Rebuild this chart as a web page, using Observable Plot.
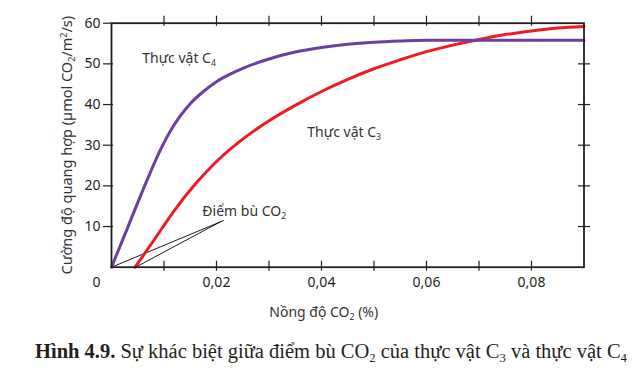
<!DOCTYPE html>
<html><head><meta charset="utf-8">
<script src="https://cdn.jsdelivr.net/npm/d3@7"></script>
<script src="https://cdn.jsdelivr.net/npm/@observablehq/plot@0.6"></script>
<style>
body{margin:0;background:#fff;}
#wrap{position:relative;width:643px;height:385px;overflow:hidden;background:#fff;}
#cap{position:absolute;left:35px;top:341px;font-family:"Liberation Serif";font-size:20.5px;line-height:1;color:#231f20;white-space:nowrap;}
#cap sub{font-size:62%;vertical-align:-0.3em;line-height:0;}
</style></head><body>
<div id="wrap"><div id="chart"></div>
<div id="cap"><b>Hình 4.9.</b> Sự khác biệt giữa điểm bù CO<sub>2</sub> của thực vật C<sub>3</sub> và thực vật C<sub>4</sub></div>
</div>
<script>
// C4 plant curve
const c4X = [0, 0.003, 0.006, 0.009, 0.011, 0.013, 0.015, 0.0175, 0.02, 0.0225, 0.025, 0.03, 0.035, 0.04, 0.045, 0.05, 0.055, 0.06, 0.07, 0.08, 0.09];
const c4Y = [0, 9.5, 19, 28, 33, 37, 40.2, 43.2, 45.6, 47.4, 48.9, 51.2, 52.9, 54.0, 54.8, 55.3, 55.6, 55.8, 55.8, 55.8, 55.8];
// C3 plant curve
const c3X = [0.0045, 0.008, 0.012, 0.016, 0.02, 0.025, 0.03, 0.035, 0.04, 0.045, 0.05, 0.055, 0.06, 0.065, 0.07, 0.075, 0.08, 0.085, 0.09];
const c3Y = [0, 6.5, 14, 20.5, 26, 31.5, 36, 39.8, 43.2, 46.2, 48.8, 51.0, 53.0, 54.6, 56.0, 57.2, 58.1, 58.8, 59.2];
// axis ticks
const xTickLabels = [0.02, 0.04, 0.06, 0.08];
const xTickMarks = [0.01, 0.02, 0.03, 0.04, 0.05, 0.06, 0.07, 0.08];
const yTickLabels = [10, 20, 30, 40, 50, 60];
const yTickMarks = [10, 20, 30, 40, 50];
const cornerLabel = ["0"];
// annotations
const annoLabels = ["Thực vật C_4", "Thực vật C_3", "Điểm bù CO_2"];
const annoX = [0.00585, 0.0373, 0.0173];
const annoY = [50.3, 32.1, 12.6];
const leaderFromX = [0.0214, 0.0208];
const leaderFromY = [11.5, 11.2];
const leaderToX = [0, 0.0046];
const leaderToY = [0, 0];
const xTitle = "Nồng độ CO_2 (%)";
const yTitle = "Cường độ quang hợp (µmol CO_2/m^2/s)";

const ink = "#231f20";
const purple = "#6b3fa0";
const red = "#ed1c24";

const c4 = c4X.map((x, i) => ({x, y: c4Y[i]}));
const c3 = c3X.map((x, i) => ({x, y: c3Y[i]}));
const leaders = leaderFromX.map((x, i) => ({x1: x, y1: leaderFromY[i], x2: leaderToX[i], y2: leaderToY[i]}));

const W = 643, H = 330, mL = 111, mR = 59.5, mT = 22.7, mB = 63.3;
const iw = W - mL - mR, ih = H - mT - mB;

const plot = Plot.plot({
  width: W, height: H,
  marginLeft: mL, marginRight: mR, marginTop: mT, marginBottom: mB,
  x: {domain: [0, 0.09]},
  y: {domain: [0, 60]},
  style: {fontFamily: "Noto Sans", fontSize: "14px", color: ink, background: "white", overflow: "visible"},
  marks: [
    Plot.axisX(xTickLabels, {anchor: "bottom", tickSize: 0, tickPadding: 10, tickFormat: d => d.toFixed(2).replace(".", ","), label: null, fill: ink}),
    Plot.axisY(yTickLabels, {anchor: "left", tickSize: 0, tickPadding: 11, label: null, fill: ink}),
    Plot.text(cornerLabel, {x: [0], y: [0], dx: -15, dy: 10, lineAnchor: "top", fill: ink}),
    Plot.tickX(xTickMarks, {x: d => d, insetTop: ih - 6, insetBottom: -4, stroke: ink, strokeWidth: 1.2}),
    Plot.tickX(xTickMarks, {x: d => d, insetTop: -7, insetBottom: ih - 3, stroke: ink, strokeWidth: 1.2}),
    Plot.tickY(yTickMarks.concat([60]), {y: d => d, insetLeft: -8, insetRight: iw - 2, stroke: ink, strokeWidth: 1.2}),
    Plot.tickY(yTickMarks, {y: d => d, insetLeft: iw - 5.5, insetRight: -6.5, stroke: ink, strokeWidth: 1.2}),
    Plot.link(leaders, {x1: "x1", y1: "y1", x2: "x2", y2: "y2", stroke: "#000", strokeWidth: 0.9}),
    Plot.line(c3, {x: "x", y: "y", stroke: red, strokeWidth: 3, curve: "monotone-x"}),
    Plot.line(c4, {x: "x", y: "y", stroke: purple, strokeWidth: 3, curve: "monotone-x"}),
    Plot.frame({stroke: ink, strokeWidth: 1.8}),
    Plot.text(annoLabels, {x: annoX, y: annoY, text: d => d, textAnchor: "start", lineAnchor: "bottom", fill: "#333"}),
    Plot.text([xTitle], {frameAnchor: "bottom", dx: -24, dy: 49.3, lineAnchor: "bottom", textAnchor: "middle", fill: "#333"}),
    Plot.text([yTitle], {frameAnchor: "left", dx: -40, rotate: -90, lineAnchor: "bottom", textAnchor: "middle", fill: "#333", fontSize: 14.5})
  ]
});

function richify(root) {
  root.querySelectorAll("text").forEach(t => {
    const s = t.textContent;
    if (!/[_^]/.test(s)) return;
    while (t.firstChild) t.removeChild(t.firstChild);
    const ns = "http://www.w3.org/2000/svg";
    let buf = "", shift = 0;
    const flush = () => {
      if (!buf) return;
      const sp = document.createElementNS(ns, "tspan");
      if (shift) sp.setAttribute("dy", -shift);
      shift = 0;
      sp.textContent = buf;
      t.appendChild(sp);
      buf = "";
    };
    for (let i = 0; i < s.length; i++) {
      const ch = s[i];
      if ((ch === "_" || ch === "^") && i + 1 < s.length) {
        flush();
        const sp = document.createElementNS(ns, "tspan");
        const d = ch === "_" ? 3.5 : -5;
        sp.setAttribute("dy", d - shift);
        sp.setAttribute("font-size", "62%");
        sp.textContent = s[i + 1];
        t.appendChild(sp);
        shift = d;
        i++;
      } else buf += ch;
    }
    flush();
  });
}
richify(plot);
document.getElementById("chart").appendChild(plot);
</script>
</body></html>
